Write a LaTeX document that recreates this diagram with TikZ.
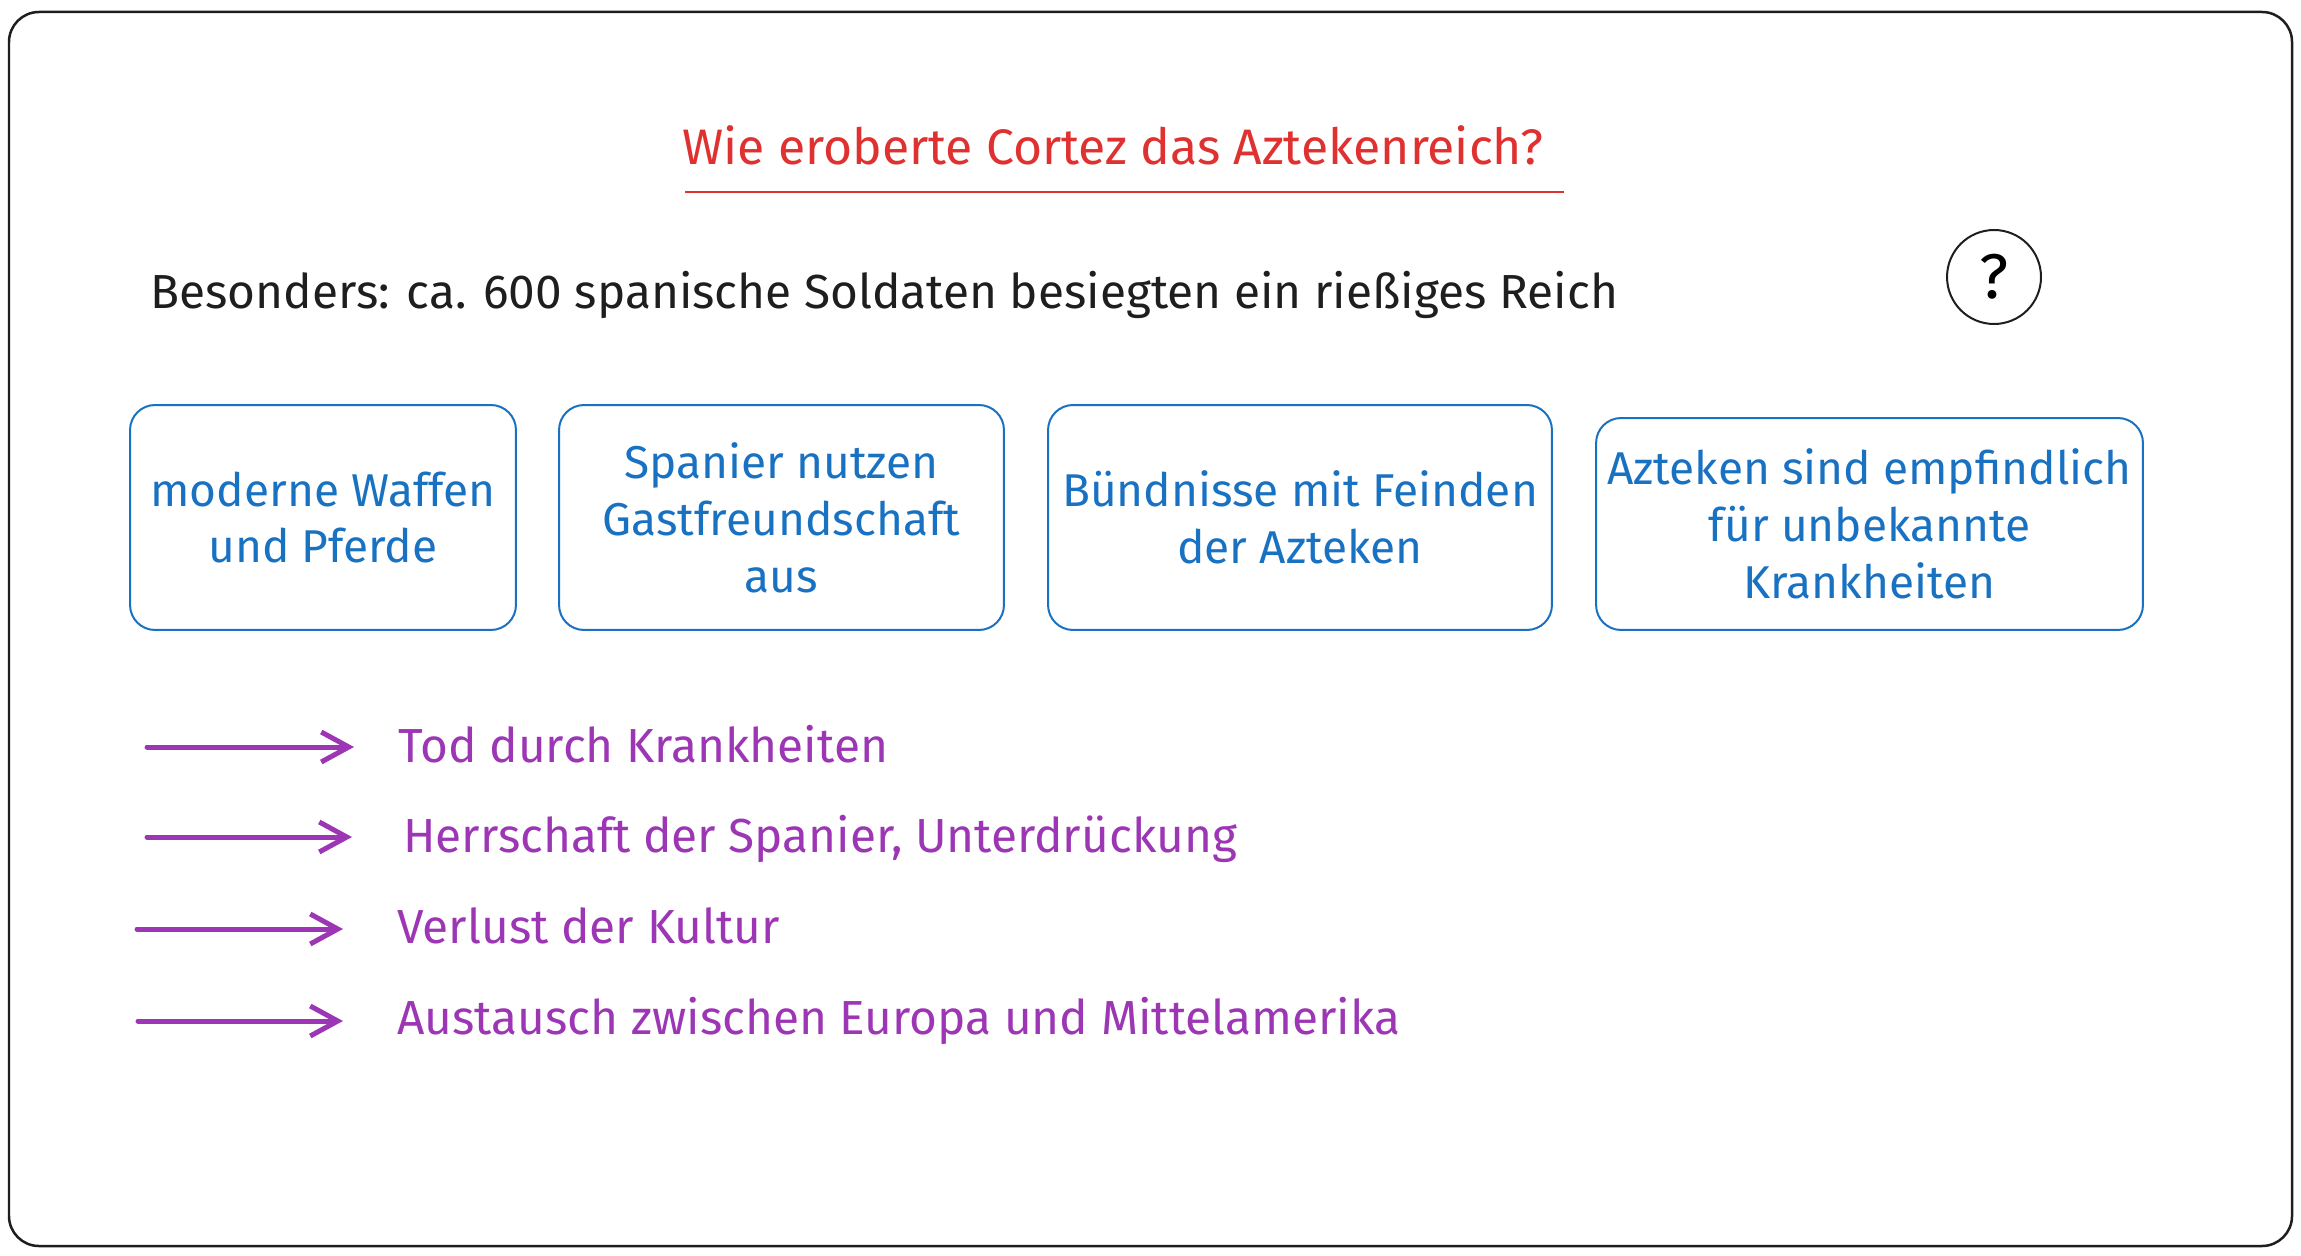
\documentclass[tikz,border=0pt]{standalone}
\usepackage{fontspec}
\setmainfont{Fira Sans}
\usetikzlibrary{arrows.meta}
\definecolor{inkblack}{HTML}{1E1E1E}
\definecolor{inkred}{HTML}{E03131}
\definecolor{inkblue}{HTML}{1971C2}
\definecolor{inkpurple}{HTML}{9C36B5}
\tikzset{
  handfont/.style={font=\fontsize{27.2}{32.4}\selectfont},
  causebox/.style={draw=inkblue, line width=0.04cm, rounded corners=0.5cm, text=inkblue, align=center, font=\fontsize{26.2}{32.4}\selectfont, inner sep=0pt},
  effect/.style={text=inkpurple, handfont, inner sep=0pt, anchor=base west},
  effarrow/.style={-{Straight Barb[length=0.55cm, width=0.6cm]}, inkpurple, line width=0.1cm, line cap=round},
}

\begin{document}
\begin{tikzpicture}[x=0.02cm, y=-0.02cm]
\useasboundingbox (0,0) rectangle (2301,1256);
% Frame
\draw[inkblack, line width=0.05cm, rounded corners=0.6cm] (9,12) rectangle (2292,1246);

% Title
\node[text=inkred, font=\fontsize{28.4}{32.4}\selectfont, inner sep=0pt, anchor=base] (title) at (1113,165) {Wie eroberte Cortez das Aztekenreich?};
\draw[inkred, line width=0.04cm] (685,192) -- (1564,192);

% Question
\node[text=inkblack, handfont, inner sep=0pt, anchor=base west] (special) at (150,309) {Besonders: ca. 600 spanische Soldaten besiegten ein rießiges Reich};
\node[draw=inkblack, line width=0.04cm, circle, minimum size=1.88cm, inner sep=0pt, font=\fontsize{36}{40}\selectfont] (quest) at (1994,277) {?};

% Causes
\node[causebox, minimum width=7.72cm, minimum height=4.5cm] (weapons) at (323,517.5) {moderne Waffen\\und Pferde};
\node[causebox, minimum width=8.9cm, minimum height=4.5cm] (hospitality) at (781.5,517.5) {Spanier nutzen\\Gastfreundschaft\\aus};
\node[causebox, minimum width=10.08cm, minimum height=4.5cm] (allies) at (1300,517.5) {Bündnisse mit Feinden\\der Azteken};
\node[causebox, minimum width=10.94cm, minimum height=4.24cm] (disease) at (1869.5,524) {Azteken sind empfindlich\\für unbekannte\\Krankheiten};

% Consequences
\node[effect] (death) at (398,762) {Tod durch Krankheiten};
\node[effect] (rule) at (403,852) {Herrschaft der Spanier, Unterdrückung};
\node[effect] (culture) at (397,943) {Verlust der Kultur};
\node[effect] (exchange) at (397,1034) {Austausch zwischen Europa und Mittelamerika};

\coordinate (deathS) at (147,747);
\coordinate (deathE) at (354,747);
\coordinate (ruleS) at (147,837);
\coordinate (ruleE) at (352,837);
\coordinate (cultureS) at (137,929);
\coordinate (cultureE) at (343,929);
\coordinate (exchangeS) at (138,1021);
\coordinate (exchangeE) at (343,1021);
\draw[effarrow] (deathS) -- (deathE);
\draw[effarrow] (ruleS) -- (ruleE);
\draw[effarrow] (cultureS) -- (cultureE);
\draw[effarrow] (exchangeS) -- (exchangeE);
\end{tikzpicture}
\end{document}
